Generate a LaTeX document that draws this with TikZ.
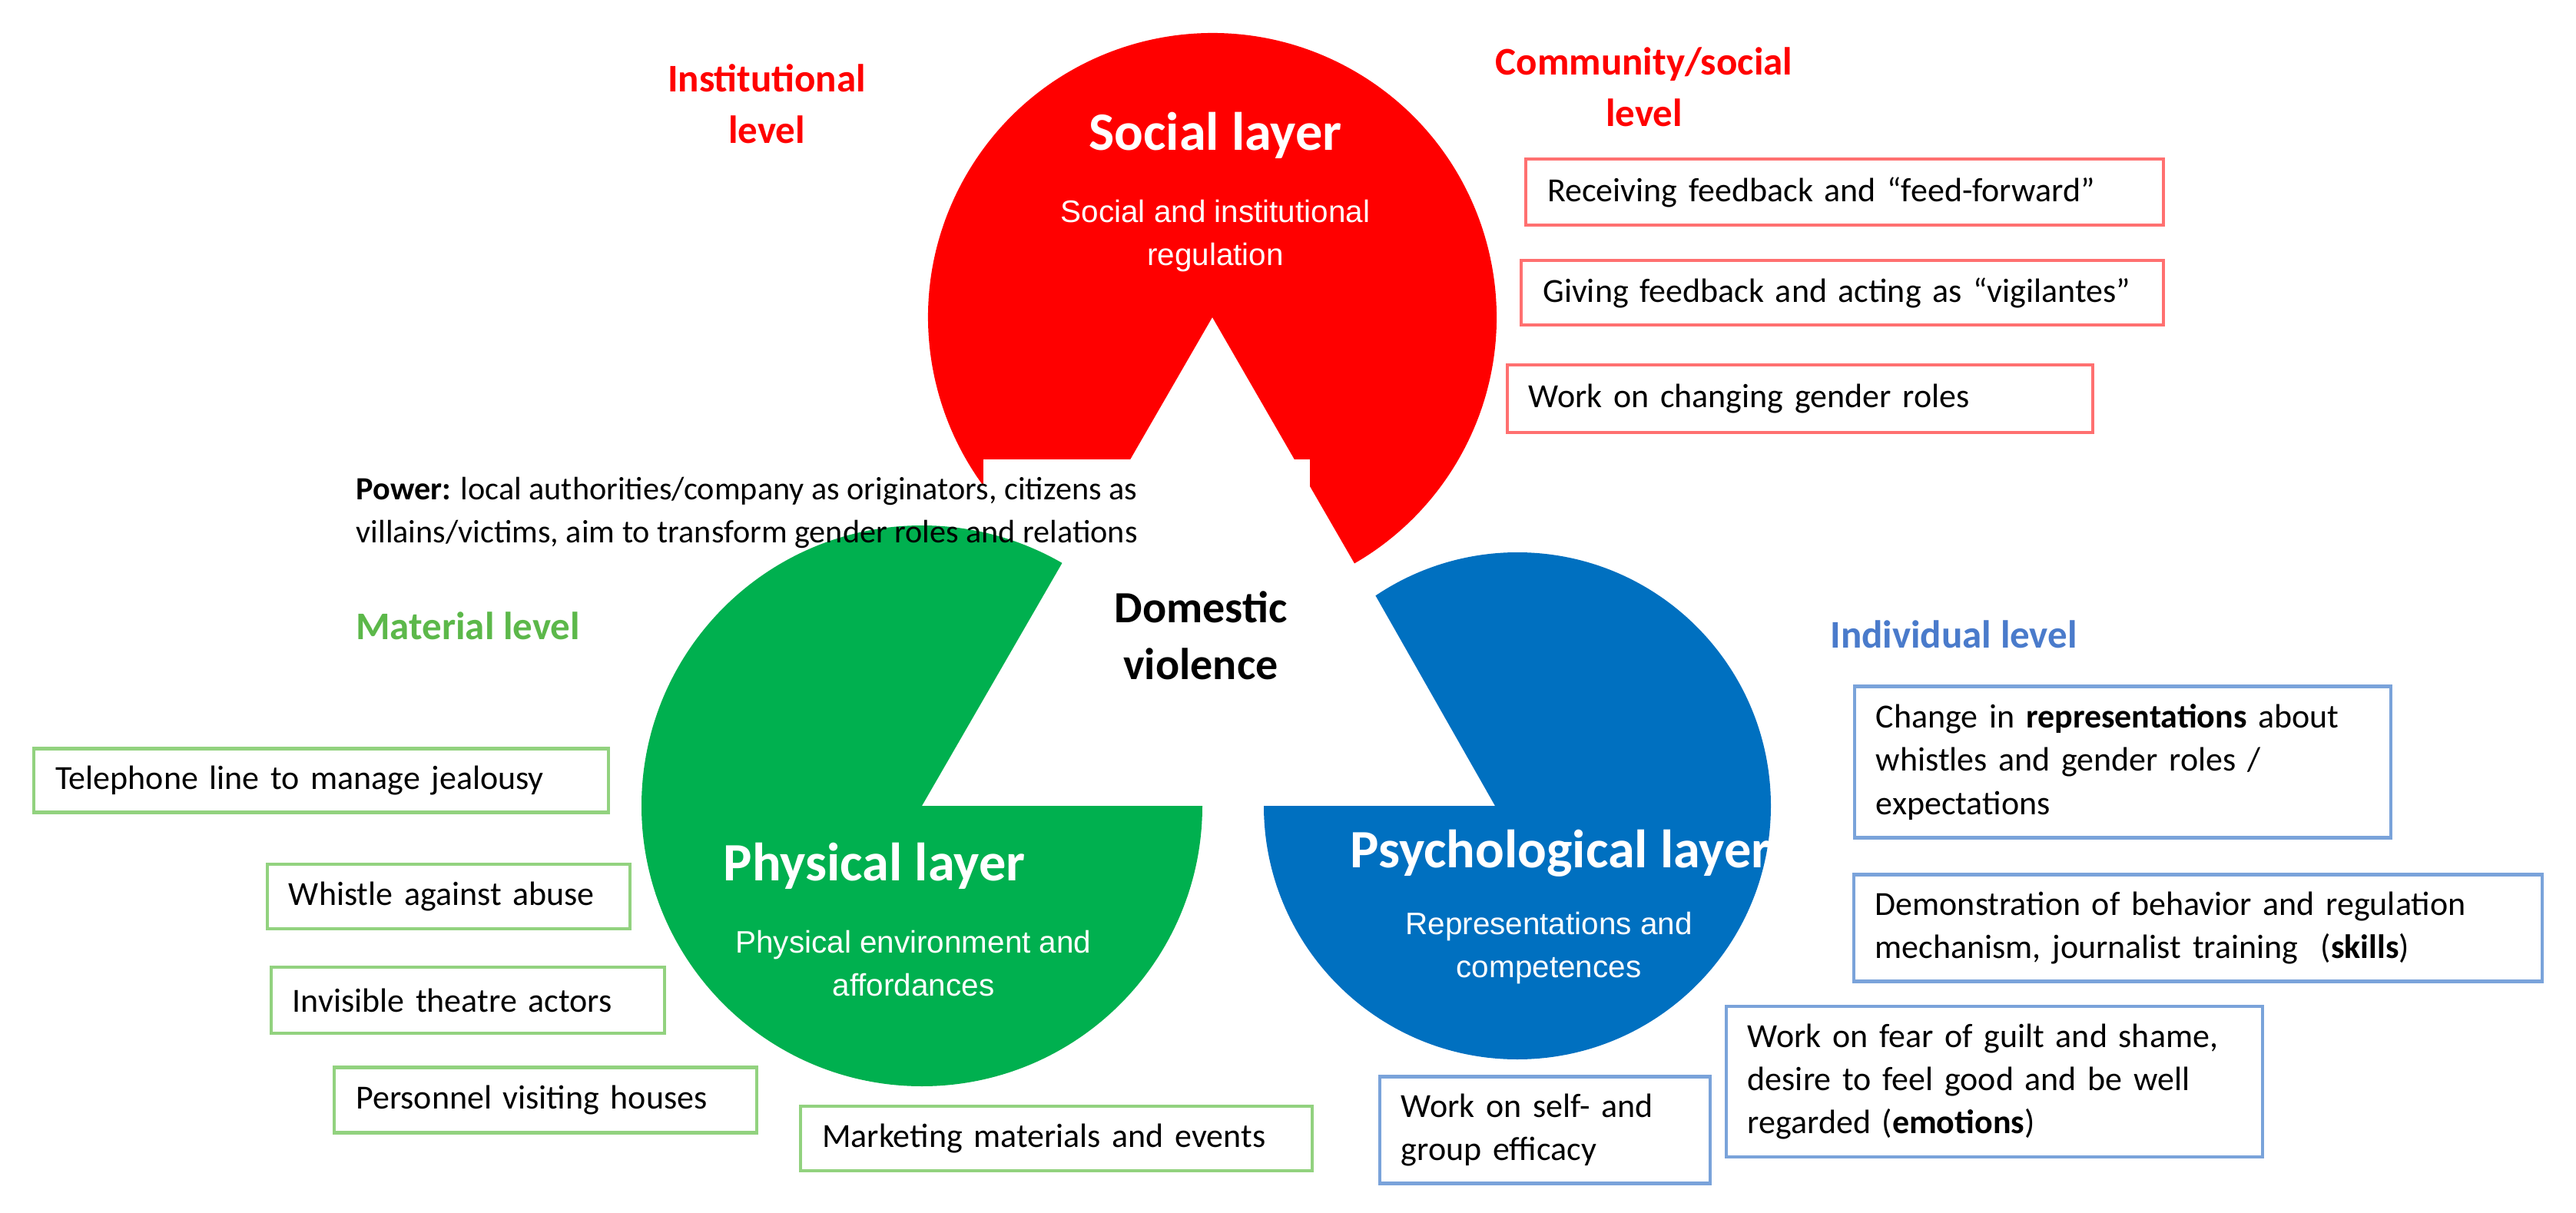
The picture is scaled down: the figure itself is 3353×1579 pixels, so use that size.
\documentclass[tikz,border=0pt]{standalone}
\usepackage{fontspec}
\setmainfont{Carlito}
\newfontfamily\subfont{Liberation Sans}
\definecolor{socred}{HTML}{FF0000}
\definecolor{phygreen}{HTML}{00B04F}
\definecolor{psyblue}{HTML}{0070C0}
\definecolor{redline}{HTML}{FF7070}
\definecolor{greenline}{HTML}{92D27F}
\definecolor{blueline}{HTML}{7AA3DA}
\definecolor{lvlgreen}{HTML}{5CB84A}
\definecolor{lvlblue}{HTML}{4A7BCB}
\begin{document}
\begin{tikzpicture}[x=0.01cm, y=-0.01cm,
  every node/.style = {inner sep=0pt},
  item/.style = {
    draw,
    line width=1.2pt,
    align=left,
    inner xsep=0.28cm,
    inner ysep=0pt,
    font=\fontsize{12.5}{16}\selectfont
  },
  rbox/.style = {item, draw=redline},
  gbox/.style = {item, draw=greenline},
  bbox/.style = {item, draw=blueline},
  layer/.style = {text=white, font=\fontsize{20}{24}\selectfont\bfseries},
  sublayer/.style = {text=white, align=center, font=\subfont\fontsize{11.5}{16}\selectfont},
  level/.style = {align=center, font=\fontsize{14.5}{19}\selectfont\bfseries}
  ]
  \useasboundingbox (0,0) rectangle (3353,1579);
  % the three layers
  \fill[socred] (1578,413) -- ++(120:370) arc[start angle=120, end angle=420, radius=370] -- cycle;
  \fill[white] (1280,598) rectangle (1705,760);
  \fill[phygreen] (1200,1049) -- ++(0:365) arc[start angle=0, end angle=300, radius=365] -- cycle;
  \fill[psyblue] (1946,1049) -- (1645,1049) arc[start angle=180, end angle=-124, radius=330] -- cycle;

  \node[layer] (social) at (1582,176) {Social layer};
  \node[sublayer] (socialsub) at (1582,307) {Social and institutional\\regulation};
  \node[layer] (physical) at (1138,1127) {Physical layer};
  \node[sublayer] (physicalsub) at (1189,1254) {Physical environment and\\affordances};
  \node[layer] (psycho) at (2031,1111) {Psychological layer};
  \node[sublayer] (psychosub) at (2016,1234) {Representations and\\competences};
  \node[font=\fontsize{16.5}{21}\selectfont\bfseries, align=center] (domestic) at (1563,827) {Domestic\\violence};

  % levels
  \node[level, text=socred] (institutional) at (998,135) {Institutional\\level};
  \node[level, text=socred] (community) at (2140,113) {Community/social\\level};
  \node[level, text=lvlgreen] (material) at (609,815) {Material level};
  \node[level, text=lvlblue] (individual) at (2543,826) {Individual level};

  \node[anchor=north west, align=left, font=\fontsize{12}{16}\selectfont] (power) at (463,620)
    {\textbf{Power:} local authorities/company as originators, citizens as\\villains/victims, aim to transform gender roles and relations};

  % social items
  \node[rbox, text width=7.73cm, minimum height=0.86cm] (feedforward) at (2401,250) {Receiving feedback and “feed-forward”};
  \node[rbox, text width=7.79cm, minimum height=0.84cm] (vigilantes) at (2398,381) {Giving feedback and acting as “vigilantes”};
  \node[rbox, text width=7.06cm, minimum height=0.88cm] (genderroles) at (2343,519) {Work on changing gender roles};

  % physical items
  \node[gbox, text width=6.91cm, minimum height=0.83cm] (telephone) at (418,1016) {Telephone line to manage jealousy};
  \node[gbox, text width=4.16cm, minimum height=0.84cm] (whistle) at (584,1167) {Whistle against abuse};
  \node[gbox, text width=4.56cm, minimum height=0.86cm] (theatre) at (609,1302) {Invisible theatre actors};
  \node[gbox, text width=4.93cm, minimum height=0.85cm] (personnel) at (710,1432) {Personnel visiting houses};
  \node[gbox, text width=6.09cm, minimum height=0.84cm] (marketing) at (1375,1482) {Marketing materials and events};

  % psychological items
  \node[bbox, text width=6.42cm, minimum height=1.97cm] (representations) at (2763,992)
    {Change in \textbf{representations} about\\whistles and gender roles /\\expectations};
  \node[bbox, text width=8.40cm, minimum height=1.39cm] (skills) at (2861,1208)
    {Demonstration of behavior and regulation\\mechanism, journalist training\ \ (\textbf{skills})};
  \node[bbox, text width=6.42cm, minimum height=1.96cm] (emotions) at (2596,1408)
    {Work on fear of guilt and shame,\\desire to feel good and be well\\regarded (\textbf{emotions})};
  \node[bbox, text width=3.74cm, minimum height=1.39cm] (efficacy) at (2011,1471)
    {Work on self- and\\group efficacy};
\end{tikzpicture}
\end{document}
